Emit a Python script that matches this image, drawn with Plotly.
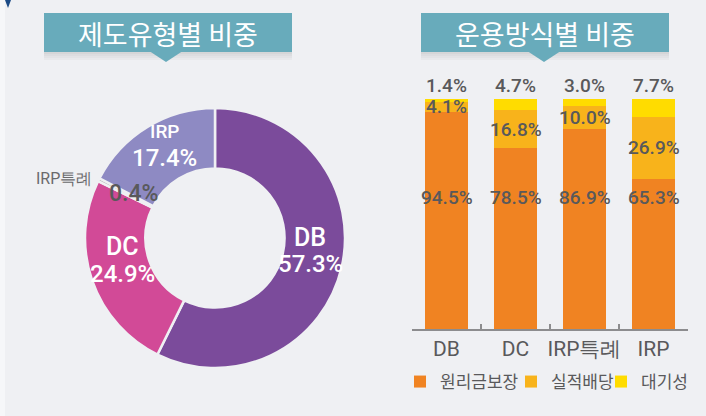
import plotly.graph_objects as go
import math

W, H = 706, 416

# ---- data ----
pie_labels = ["DB", "DC", "IRP특례", "IRP"]
pie_values = [57.3, 24.9, 0.4, 17.4]
pie_colors = ["#7b4b9b", "#d24a97", "#b9b9bb", "#8e8ac3"]

bar_categories = ["DB", "DC", "IRP특례", "IRP"]
guaranteed = [94.5, 78.5, 86.9, 65.3]      # 원리금보장
performance = [4.1, 16.8, 10.0, 26.9]      # 실적배당
standby = [1.4, 4.7, 3.0, 7.7]             # 대기성
series_names = ["원리금보장", "실적배당", "대기성"]
series_colors = ["#f08322", "#f8b31b", "#ffdc00"]

title_left = "제도유형별 비중"
title_right = "운용방식별 비중"

NUM_FONT = "Roboto, sans-serif"
KR_FONT = "Noto Sans CJK KR, sans-serif"
LABEL_GRAY = "#59595b"


def px(x):
    return x / W


def py(y):
    return 1 - y / H


fig = go.Figure()

# ---- donut ----
cx, cy, R = 215, 238, 130
fig.add_trace(go.Pie(
    labels=pie_labels, values=pie_values, sort=False, direction="clockwise",
    rotation=0, hole=0.535, textinfo="none", hoverinfo="skip",
    marker=dict(colors=pie_colors, line=dict(color="#eff0f3", width=2.5)),
    domain=dict(x=[px(cx - R), px(cx + R)], y=[py(cy + R), py(cy - R)]),
    showlegend=False,
))

annotations = []


def ann(x, y, text, size, color, font=NUM_FONT, xref="paper", yref="paper", weight=500, **kw):
    d = dict(x=x, y=y, xref=xref, yref=yref, text=text, showarrow=False,
             xanchor="center", yanchor="middle",
             font=dict(family=font, size=size, color=color, weight=weight))
    d.update(kw)
    annotations.append(d)


cum = 0
total = sum(pie_values)
for lab, val in zip(pie_labels, pie_values):
    mid = (cum + val / 2) / total * 2 * math.pi
    cum += val
    if lab == "IRP특례":
        continue
    r = 98
    mx = cx + r * math.sin(mid)
    my = cy - r * math.cos(mid) - 10
    name_size = 19 if lab == "IRP" else 25
    ann(px(mx), py(my - 13), lab, name_size, "white")
    ann(px(mx), py(my + 14), f"{val:.1f}%", 24, "white")

# IRP특례 labels (outside name + small pct)
ann(px(64), py(178), pie_labels[2], 16, "#6a6a6c", weight=400)
ann(px(133), py(193), f"{pie_values[2]:.1f}%", 23, LABEL_GRAY)

# ---- stacked bars ----
item_widths = [66, 45, 60]
for name, vals, col, lw in zip(series_names, [guaranteed, performance, standby],
                               series_colors, item_widths):
    fig.add_trace(go.Bar(
        x=bar_categories, y=vals, name=name, marker=dict(color=col, line=dict(width=0)),
        xaxis="x", yaxis="y", hoverinfo="skip", legendwidth=lw,
    ))

for i, cat in enumerate(bar_categories):
    ann(cat, 57, f"{guaranteed[i]:.1f}%", 19, LABEL_GRAY, xref="x", yref="y")
    ann(cat, guaranteed[i] + performance[i] / 2, f"{performance[i]:.1f}%", 19, LABEL_GRAY,
        xref="x", yref="y")
    top = guaranteed[i] + performance[i] + standby[i]
    ann(cat, top, f"{standby[i]:.1f}%", 19, LABEL_GRAY, xref="x", yref="y",
        yanchor="bottom", yshift=0)

# ---- title boxes ----
shapes = []


def title_box(x0, x1, tip_x, text):
    y0, y1 = 13, 52
    for k, op in enumerate([0.22, 0.16, 0.10, 0.05]):
        shapes.append(dict(type="rect", xref="paper", yref="paper",
                           x0=px(x0), x1=px(x1), y0=py(y1 + 2 * k + 2), y1=py(y1 + 2 * k),
                           fillcolor="#7a7a7a", opacity=op, line=dict(width=0), layer="below"))
    shapes.append(dict(type="rect", xref="paper", yref="paper",
                       x0=px(x0), x1=px(x1), y0=py(y1), y1=py(y0),
                       fillcolor="#68abbb", line=dict(width=0)))
    path = (f"M {px(tip_x - 16)} {py(y1 - 0.5)} L {px(tip_x + 16)} {py(y1 - 0.5)} "
            f"L {px(tip_x)} {py(y1 + 10)} Z")
    shapes.append(dict(type="path", xref="paper", yref="paper", path=path,
                       fillcolor="#68abbb", line=dict(width=0)))
    ann(px((x0 + x1) / 2), py(33), text, 27, "white", font=KR_FONT, weight=400)


title_box(44, 292, 166, title_left)
title_box(421, 669, 544, title_right)

# left edge strip and corner triangle
shapes.append(dict(type="rect", xref="paper", yref="paper", x0=0, x1=px(5), y0=0, y1=1,
                   fillcolor="#f6f7f9", line=dict(width=0), layer="below"))
shapes.append(dict(type="path", xref="paper", yref="paper",
                   path=f"M {px(5)} {py(0)} L {px(11)} {py(0)} L {px(8)} {py(8)} Z",
                   fillcolor="#1b4a86", line=dict(width=0)))

fig.update_layout(
    width=W, height=H, margin=dict(l=0, r=0, t=0, b=0, autoexpand=False),
    paper_bgcolor="#eff0f3", plot_bgcolor="rgba(0,0,0,0)",
    barmode="stack", bargap=0.39,
    xaxis=dict(domain=[px(412), px(688)], showline=True, linecolor="#8c8c8e", linewidth=2,
               ticks="inside", tickson="boundaries", ticklen=5, tickcolor="#8c8c8e", tickwidth=1.5,
               showgrid=False, zeroline=False, tickangle=0, automargin=False,
               tickfont=dict(family=NUM_FONT, size=21, color=LABEL_GRAY), fixedrange=True),
    yaxis=dict(domain=[py(329), py(99)], range=[0, 100], visible=False, fixedrange=True),
    legend=dict(orientation="h", x=px(400), y=py(382), xanchor="left", yanchor="middle",
                font=dict(family=KR_FONT, size=17, color=LABEL_GRAY), itemwidth=30,
                bgcolor="rgba(0,0,0,0)", traceorder="normal", itemclick=False,
                borderwidth=0),
    annotations=annotations, shapes=shapes,
)

fig.write_html("out.html", config={"displayModeBar": False},
               post_script="document.body.style.margin='0px';")
